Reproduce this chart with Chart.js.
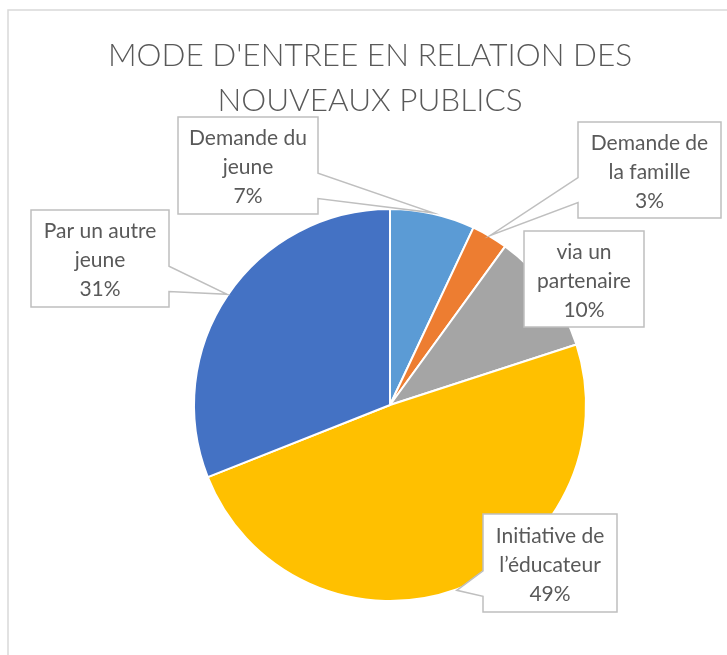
<!DOCTYPE html>
<html lang="fr">
  <head>
    <meta charset="UTF-8" />
    <title>Mode d'entrée en relation des nouveaux publics</title>
    <style>
      html, body { margin: 0; padding: 0; background: #fff; overflow: hidden; }
    </style>
  </head>
  <body>
    <canvas id="myChart" width="727" height="655"></canvas>

    <script src="https://cdn.jsdelivr.net/npm/chart.js@4.4.0/dist/chart.umd.min.js"></script>
    <script>
      const titleLines = ["MODE D'ENTREE EN RELATION DES", "NOUVEAUX PUBLICS"];
      const categories = [
        ["Demande du", "jeune"],
        ["Demande de", "la famille"],
        ["via un", "partenaire"],
        ["Initiative de", "l’éducateur"],
        ["Par un autre", "jeune"],
      ];
      const shares = [7, 3, 10, 49, 31];
      const colors = ["#5B9BD5", "#ED7D31", "#A5A5A5", "#FFC000", "#4472C4"];

      const textColor = "#595959";

      // frame + title, drawn under the pie
      const frame = {
        id: "frame",
        beforeDraw(chart) {
          const c = chart.ctx;
          c.save();
          c.strokeStyle = "#d9d9d9";
          c.lineWidth = 1.5;
          c.strokeRect(8, 10, 900, 900);
          c.fillStyle = textColor;
          c.font = "300 31.5px Lato";
          c.textAlign = "center";
          c.textBaseline = "middle";
          titleLines.forEach((t, i) => c.fillText(t, 370, 56 + i * 45));
          c.restore();
        },
      };

      // Excel-like callout boxes
      const callouts = {
        id: "callouts",
        afterDatasetsDraw(chart, args, opts) {
          const c = chart.ctx;
          const meta = chart.getDatasetMeta(0);
          c.save();
          opts.boxes.forEach((b, i) => {
            const a = meta.data[i].getProps(["x", "y", "startAngle", "endAngle", "outerRadius"]);
            const mid = (a.startAngle + a.endAngle) / 2;
            const tx = a.x + Math.cos(mid) * (a.outerRadius + 1);
            const ty = a.y + Math.sin(mid) * (a.outerRadius + 1);
            const y1 = b.y + b.h * 0.58, y2 = b.y + b.h * 0.84;

            c.beginPath();
            if (b.pointer && tx > b.x + b.w) {
              c.moveTo(b.x, b.y);
              c.lineTo(b.x + b.w, b.y);
              c.lineTo(b.x + b.w, y1);
              c.lineTo(tx, ty);
              c.lineTo(b.x + b.w, y2);
              c.lineTo(b.x + b.w, b.y + b.h);
              c.lineTo(b.x, b.y + b.h);
            } else if (b.pointer && tx < b.x) {
              c.moveTo(b.x, b.y);
              c.lineTo(b.x + b.w, b.y);
              c.lineTo(b.x + b.w, b.y + b.h);
              c.lineTo(b.x, b.y + b.h);
              c.lineTo(b.x, y2);
              c.lineTo(tx, ty);
              c.lineTo(b.x, y1);
            } else {
              c.rect(b.x, b.y, b.w, b.h);
            }
            c.closePath();
            c.fillStyle = "#fff";
            c.fill();
            c.strokeStyle = "#bfbfbf";
            c.lineWidth = 1.5;
            c.stroke();

            const lines = categories[i].concat(shares[i] + "%");
            c.fillStyle = textColor;
            c.font = "21px Lato";
            c.textAlign = "center";
            c.textBaseline = "middle";
            const cx = b.x + b.w / 2, cy = b.y + b.h / 2 + 2;
            lines.forEach((t, k) => c.fillText(t, cx, cy + (k - 1) * 29));
          });
          c.restore();
        },
      };

      const ctx = document.getElementById("myChart").getContext("2d");
      const myChart = new Chart(ctx, {
        type: "pie",
        data: {
          labels: categories,
          datasets: [
            {
              data: shares,
              backgroundColor: colors,
              borderColor: "#ffffff",
              borderWidth: 2,
            },
          ],
        },
        options: {
          responsive: false,
          animation: false,
          layout: { padding: { left: 193, right: 140, top: 208, bottom: 53 } },
          plugins: {
            legend: { display: false },
            tooltip: { enabled: false },
            callouts: {
              boxes: [
                { x: 178, y: 117, w: 140, h: 97, pointer: true },
                { x: 578, y: 122, w: 143, h: 96, pointer: true },
                { x: 524, y: 231, w: 120, h: 96, pointer: false },
                { x: 483, y: 514, w: 134, h: 98, pointer: true },
                { x: 31, y: 210, w: 138, h: 97, pointer: true },
              ],
            },
          },
        },
        plugins: [frame, callouts],
      });
    </script>
  </body>
</html>
